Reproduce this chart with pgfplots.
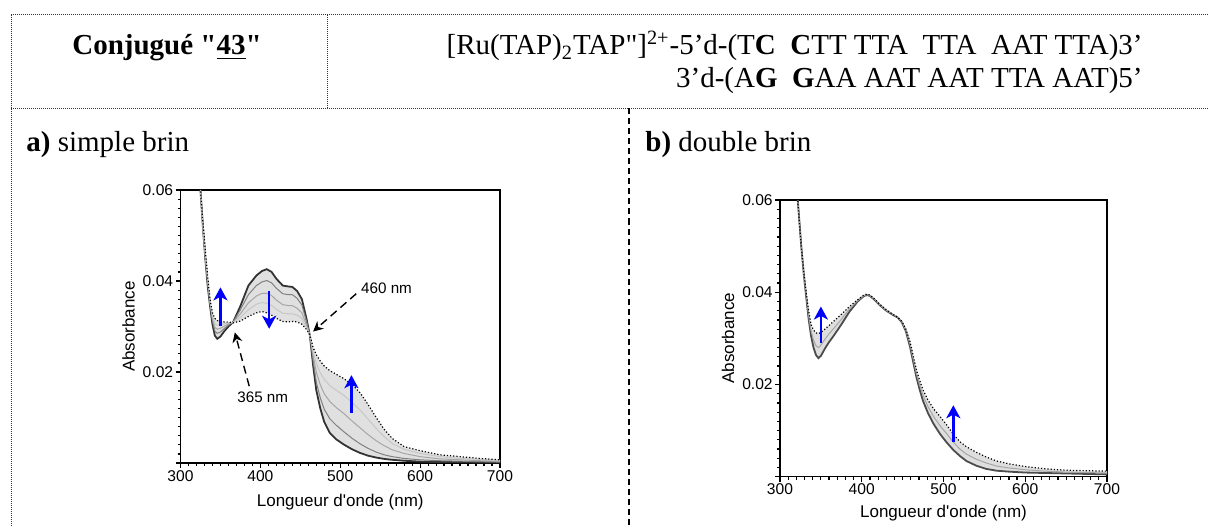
\documentclass[border=0pt]{standalone}
\usepackage{fontspec}
\setmainfont{Liberation Serif}[Ligatures=TeXOff]
\newfontfamily\arial{Liberation Sans}
\usepackage{pgfplots}
\pgfplotsset{compat=1.18}
\usepackage{pgfplotstable}
\usepgfplotslibrary{fillbetween}
\usetikzlibrary{arrows.meta}

% simple brin: initial (a0), intermediates (m1..m3), final (af)
\pgfplotstableread{
lam a0 m1 m2 m3 af
322 0.066 0.066 0.066 0.066 0.066
325 0.060 0.060 0.060 0.060 0.060
328 0.052 0.052 0.052 0.052 0.053
331 0.045 0.045 0.0455 0.046 0.047
334 0.039 0.0395 0.040 0.0405 0.041
337 0.0345 0.035 0.0352 0.0356 0.036
340 0.0305 0.0312 0.0318 0.0324 0.0330
343 0.0280 0.0290 0.0298 0.0306 0.0318
346 0.0273 0.0285 0.0294 0.0303 0.0313
350 0.0278 0.0288 0.0296 0.0304 0.0311
355 0.0290 0.0296 0.0301 0.0306 0.0310
360 0.0300 0.0303 0.0306 0.0308 0.0310
366 0.0310 0.0310 0.0309 0.0309 0.0308
375 0.0345 0.0337 0.0328 0.0320 0.0312
385 0.0390 0.0370 0.0352 0.0337 0.0322
395 0.0412 0.0390 0.0367 0.0349 0.0330
402 0.0422 0.0398 0.0373 0.0353 0.0333
408 0.0426 0.0401 0.0373 0.0351 0.0330
414 0.0420 0.0396 0.0368 0.0346 0.0325
420 0.0405 0.0384 0.0358 0.0338 0.0318
428 0.0390 0.0372 0.0348 0.0329 0.0311
435 0.0388 0.0370 0.0346 0.0328 0.0310
440 0.0387 0.0370 0.0346 0.0328 0.0311
446 0.0378 0.0362 0.0340 0.0325 0.0310
452 0.0360 0.0347 0.0330 0.0318 0.0305
458 0.0315 0.0310 0.0302 0.0297 0.0293
462 0.0280 0.0280 0.0281 0.0282 0.0282
466 0.0215 0.0225 0.0236 0.0245 0.0254
470 0.0160 0.0178 0.0200 0.0220 0.0238
475 0.0120 0.0143 0.0172 0.0198 0.0224
480 0.0090 0.0118 0.0152 0.0184 0.0213
487 0.0066 0.0097 0.0135 0.0170 0.0203
495 0.0052 0.0083 0.0122 0.0160 0.0195
505 0.0040 0.0068 0.0108 0.0148 0.0185
515 0.0030 0.0054 0.0092 0.0133 0.0172
525 0.0022 0.0042 0.0077 0.0116 0.0154
535 0.0016 0.0032 0.0062 0.0096 0.0128
545 0.0012 0.0024 0.0049 0.0076 0.0100
555 0.0009 0.0018 0.0038 0.0058 0.0074
565 0.0007 0.0014 0.0029 0.0043 0.0054
580 0.0005 0.0010 0.0021 0.0030 0.0036
600 0.0003 0.0007 0.0014 0.0021 0.0027
625 0.0002 0.0005 0.0009 0.0014 0.0018
650 0.0002 0.0004 0.0007 0.0010 0.0014
675 0.0001 0.0003 0.0005 0.0008 0.0010
700 0.0001 0.0002 0.0004 0.0006 0.0007
}\simple

% double brin: initial (b0), intermediate (bm), final (bf)
\pgfplotstableread{
lam b0 bm bf
320 0.064 0.064 0.064
323 0.057 0.057 0.057
326 0.050 0.050 0.050
329 0.044 0.044 0.0445
332 0.039 0.0395 0.0400
335 0.0342 0.0350 0.0360
338 0.0305 0.0316 0.0330
341 0.0280 0.0296 0.0318
344 0.0264 0.0284 0.0312
347 0.0257 0.0280 0.0310
350 0.0262 0.0285 0.0313
355 0.0278 0.0298 0.0320
360 0.0292 0.0310 0.0328
365 0.0304 0.0320 0.0336
375 0.0330 0.0341 0.0352
385 0.0358 0.0364 0.0369
395 0.0380 0.0382 0.0384
402 0.0391 0.0392 0.0393
406 0.0394 0.0395 0.0396
410 0.0392 0.0393 0.0394
416 0.0383 0.0384 0.0385
422 0.0372 0.0373 0.0374
430 0.0360 0.0361 0.0362
438 0.0351 0.0352 0.0352
444 0.0345 0.0346 0.0346
449 0.0335 0.0336 0.0337
454 0.0315 0.0318 0.0320
459 0.0282 0.0288 0.0293
463 0.0248 0.0255 0.0262
467 0.0215 0.0223 0.0231
471 0.0188 0.0198 0.0208
475 0.0164 0.0176 0.0188
481 0.0138 0.0152 0.0166
488 0.0114 0.0130 0.0147
496 0.0092 0.0110 0.0130
504 0.0074 0.0093 0.0112
512 0.0058 0.0075 0.0092
520 0.0045 0.0060 0.0076
528 0.0034 0.0049 0.0065
540 0.0024 0.0038 0.0053
552 0.0017 0.0030 0.0043
565 0.0013 0.0023 0.0034
580 0.0011 0.0019 0.0028
600 0.0009 0.0015 0.0022
625 0.0008 0.0012 0.0017
650 0.0007 0.0010 0.0014
675 0.0006 0.0009 0.0013
700 0.0005 0.0008 0.0012
}\double

\pgfplotsset{
  spectre/.style={
    scale only axis, anchor=south west, set layers,
    xmin=300, xmax=700, ymin=0, ymax=0.06,
    xtick={300,400,500,600,700}, xticklabels={300,400,500,600,700},
    ytick={0,0.02,0.04,0.06}, yticklabels={,0.02,0.04,0.06},
    minor x tick num=9, minor y tick num=9,
    xtick pos=bottom, ytick pos=left, tick align=outside,
    major tick length=2.5pt, minor tick length=1.5pt,
    axis line style={line width=0.6pt},
    every tick/.style={black, line width=0.6pt},
    tick label style={font=\arial\fontsize{7.8}{9}\selectfont, inner sep=1pt},
    label style={font=\arial\fontsize{8.5}{10}\selectfont},
    xlabel={Longueur d'onde (nm)}, ylabel={Absorbance},
    scaled ticks=false,
  },
}
\tikzset{
  bleu/.style={blue, line width=1.2pt, -{Stealth[length=6.5pt,width=7pt,inset=1.8pt]}},
  fleche/.style={black, line width=0.7pt, dash pattern=on 4pt off 2.5pt, -{Stealth[length=5pt,width=5pt]}},
}

\begin{document}
\begin{tikzpicture}
\begin{scope}[x=0.5pt,y=-0.5pt]
  \path[use as bounding box] (0,0) rectangle (1208,527);
  \begin{scope}[line width=0.5pt, black!80, dash pattern=on 0.5pt off 0.5pt]
    \draw (11,15) -- (1208,15);
    \draw (11,108.5) -- (1208,108.5);
    \draw (327,15) -- (327,108.5);
    \draw (11,15) -- (11,527);
  \end{scope}
  \draw[line width=1pt, dash pattern=on 3pt off 2pt] (629,108.5) -- (629,527);
  \node[anchor=base, inner sep=0pt, font=\bfseries\fontsize{14.5}{17}\selectfont] at (167,55) {Conjugué "\underline{43}"};
  \node[anchor=base east, inner sep=0pt, font=\fontsize{14.5}{17}\selectfont] at (1143,55)
    {[Ru(TAP)\textsubscript{2}TAP"]\textsuperscript{2+}-5’d-(T\textbf{C}\ \ \textbf{C}TT TTA\ \ TTA\ \ AAT TTA)3’};
  \node[anchor=base east, inner sep=0pt, font=\fontsize{14.5}{17}\selectfont] at (1143,88)
    {3’d-(A\textbf{G}\ \ \textbf{G}AA AAT AAT TTA AAT)5’};
  \node[anchor=base west, inner sep=0pt, font=\fontsize{14.5}{17}\selectfont] at (26,152) {\textbf{a)} simple brin};
  \node[anchor=base west, inner sep=0pt, font=\fontsize{14.5}{17}\selectfont] at (645,152) {\textbf{b)} double brin};
\end{scope}

\begin{axis}[spectre, at={(90.25pt,-231.5pt)}, width=159.75pt, height=136.5pt,
  xlabel style={at={(axis description cs:0.5,-0.143)}, anchor=center},
  ylabel style={at={(axis description cs:-0.163,0.5)}, anchor=center}]
  \addplot[name path=A0, black!80, line width=0.9pt] table[x=lam, y=a0] {\simple};
  \addplot[name path=AF, draw=none] table[x=lam, y=af] {\simple};
  \addplot[black!12] fill between[of=A0 and AF];
  \addplot[black!50, line width=0.5pt] table[x=lam, y=m1] {\simple};
  \addplot[black!35, line width=0.5pt] table[x=lam, y=m2] {\simple};
  \addplot[black!22, line width=0.5pt] table[x=lam, y=m3] {\simple};
  \addplot[black, line width=0.6pt, densely dotted] table[x=lam, y=af] {\simple};
  \draw[bleu] (axis cs:350,0.0302) -- (axis cs:350,0.0386);
  \draw[bleu] (axis cs:411,0.0378) -- (axis cs:411,0.0295);
  \draw[bleu] (axis cs:514,0.0110) -- (axis cs:514,0.0193);
  \draw[fleche] (axis cs:520,0.0372) -- (axis cs:466,0.0289);
  \draw[fleche] (axis cs:386,0.0169) -- (axis cs:368,0.0287);
  \node[font=\arial\fontsize{7.6}{9}\selectfont] at (axis cs:558,0.0383) {460 nm};
  \node[font=\arial\fontsize{7.6}{9}\selectfont] at (axis cs:403,0.0144) {365 nm};
\end{axis}

\begin{axis}[spectre, at={(390pt,-238.35pt)}, width=163.5pt, height=138.35pt,
  xlabel style={at={(axis description cs:0.5,-0.131)}, anchor=center},
  ylabel style={at={(axis description cs:-0.159,0.5)}, anchor=center}]
  \addplot[name path=B0, black!70, line width=0.9pt] table[x=lam, y=b0] {\double};
  \addplot[name path=BF, draw=none] table[x=lam, y=bf] {\double};
  \addplot[black!13] fill between[of=B0 and BF];
  \addplot[black!35, line width=0.5pt] table[x=lam, y=bm] {\double};
  \addplot[black, line width=0.6pt, densely dotted] table[x=lam, y=bf] {\double};
  \draw[bleu] (axis cs:350,0.0289) -- (axis cs:350,0.0369);
  \draw[bleu] (axis cs:512,0.0076) -- (axis cs:512,0.0155);
\end{axis}
\end{tikzpicture}
\end{document}
